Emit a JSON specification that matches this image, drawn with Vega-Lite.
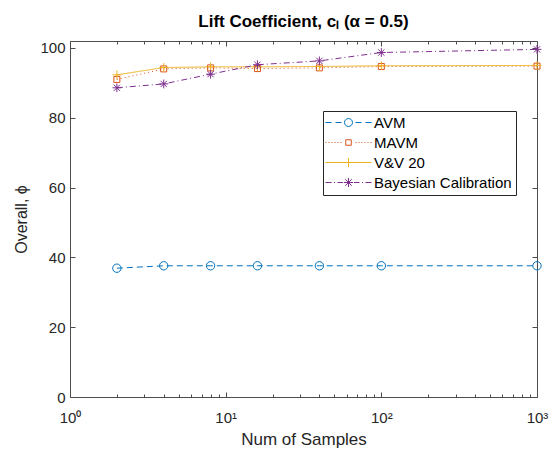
{
  "$schema": "https://vega.github.io/schema/vega-lite/v6.json",
  "autosize": {"type": "none"},
  "width": 467,
  "height": 356,
  "padding": {"left": 70, "top": 41, "right": 16, "bottom": 65},
  "background": "white",
  "title": {"text": "Lift Coefficient, cₗ (α = 0.5)", "fontSize": 17, "fontWeight": "bold", "font": "Liberation Sans", "color": "#000000", "anchor": "middle", "offset": 10},
  "data": {"values": [
    {"method": "AVM", "n": 2, "phi": 36.9},
    {"method": "AVM", "n": 4, "phi": 37.6},
    {"method": "AVM", "n": 8, "phi": 37.6},
    {"method": "AVM", "n": 16, "phi": 37.6},
    {"method": "AVM", "n": 40, "phi": 37.6},
    {"method": "AVM", "n": 100, "phi": 37.6},
    {"method": "AVM", "n": 1000, "phi": 37.6},
    {"method": "MAVM", "n": 2, "phi": 91.0},
    {"method": "MAVM", "n": 4, "phi": 94.0},
    {"method": "MAVM", "n": 8, "phi": 94.3},
    {"method": "MAVM", "n": 16, "phi": 94.1},
    {"method": "MAVM", "n": 40, "phi": 94.3},
    {"method": "MAVM", "n": 100, "phi": 94.7},
    {"method": "MAVM", "n": 1000, "phi": 94.8},
    {"method": "V&V 20", "n": 2, "phi": 92.3},
    {"method": "V&V 20", "n": 4, "phi": 94.4},
    {"method": "V&V 20", "n": 8, "phi": 94.6},
    {"method": "V&V 20", "n": 16, "phi": 94.6},
    {"method": "V&V 20", "n": 40, "phi": 94.7},
    {"method": "V&V 20", "n": 100, "phi": 94.9},
    {"method": "V&V 20", "n": 1000, "phi": 95.0},
    {"method": "Bayesian Calibration", "n": 2, "phi": 88.6},
    {"method": "Bayesian Calibration", "n": 4, "phi": 89.7},
    {"method": "Bayesian Calibration", "n": 8, "phi": 92.5},
    {"method": "Bayesian Calibration", "n": 16, "phi": 95.2},
    {"method": "Bayesian Calibration", "n": 40, "phi": 96.3},
    {"method": "Bayesian Calibration", "n": 100, "phi": 98.7},
    {"method": "Bayesian Calibration", "n": 1000, "phi": 99.6}
  ]},
  "resolve": {"axis": {"x": "independent", "y": "independent"}, "scale": {"color": "independent", "shape": "independent"}},
  "layer": [
    {
      "mark": {"type": "line", "strokeWidth": 1},
      "encoding": {
        "x": {"field": "n", "type": "quantitative",
          "scale": {"type": "log", "domain": [1, 1000], "nice": false},
          "axis": {"orient": "bottom", "title": "Num of Samples",
            "values": [1,2,3,4,5,6,7,8,9,10,20,30,40,50,60,70,80,90,100,200,300,400,500,600,700,800,900,1000],
            "labelExpr": "datum.value == 1 ? '10⁰' : datum.value == 10 ? '10¹' : datum.value == 100 ? '10²' : datum.value == 1000 ? '10³' : ''",
            "tickSize": {"condition": {"test": "datum.value == 1 || datum.value == 10 || datum.value == 100 || datum.value == 1000", "value": -5}, "value": -3},
            "labelPadding": 18, "titlePadding": 4, "labelFlush": false, "labelOverlap": false}},
        "y": {"field": "phi", "type": "quantitative",
          "scale": {"domain": [0, 102], "nice": false, "zero": true},
          "axis": {"orient": "left", "title": "Overall, ϕ", "values": [0,20,40,60,80,100], "tickSize": -5, "labelPadding": 10, "titlePadding": 10}},
        "color": {"field": "method", "type": "nominal",
          "scale": {"domain": ["AVM", "MAVM", "V&V 20", "Bayesian Calibration"], "range": ["#0072BD", "#D95319", "#EDB120", "#7E2F8E"]},
          "legend": null},
        "strokeDash": {"field": "method", "type": "nominal",
          "scale": {"domain": ["AVM", "MAVM", "V&V 20", "Bayesian Calibration"], "range": [[6, 4], [1, 3], [1, 0], [6, 3, 1, 3]]},
          "legend": null}
      }
    },
    {
      "mark": {"type": "point", "filled": false, "strokeWidth": 1, "size": 64, "opacity": 1},
      "encoding": {
        "x": {"field": "n", "type": "quantitative",
          "axis": {"orient": "top", "title": null, "labels": false,
            "values": [1,2,3,4,5,6,7,8,9,10,20,30,40,50,60,70,80,90,100,200,300,400,500,600,700,800,900,1000],
            "tickSize": {"condition": {"test": "datum.value == 1 || datum.value == 10 || datum.value == 100 || datum.value == 1000", "value": -5}, "value": -3}}},
        "y": {"field": "phi", "type": "quantitative",
          "axis": {"orient": "right", "title": null, "labels": false, "values": [0,20,40,60,80,100], "tickSize": -5}},
        "color": {"field": "method", "type": "nominal",
          "scale": {"domain": ["AVM", "MAVM", "V&V 20", "Bayesian Calibration"], "range": ["#0072BD", "#D95319", "#EDB120", "#7E2F8E"]},
          "legend": null},
        "shape": {"field": "method", "type": "nominal",
          "scale": {"domain": ["AVM", "MAVM", "V&V 20", "Bayesian Calibration"],
            "range": [
              "M-1.05,0A1.05,1.05 0 1,0 1.05,0A1.05,1.05 0 1,0 -1.05,0",
              "M-0.75,-0.75H0.75V0.75H-0.75Z",
              "M-1.1,0H1.1M0,-1.1V1.1",
              "M-1.1,0H1.1M0,-1.1V1.1M-0.78,-0.78L0.78,0.78M-0.78,0.78L0.78,-0.78"
            ]},
          "legend": null}
      }
    },
    {
      "data": {"values": [
        {"entry": "AVM"},
        {"entry": "MAVM"},
        {"entry": "V&V 20"},
        {"entry": "Bayesian Calibration"}
      ]},
      "mark": {"type": "point", "filled": false, "strokeWidth": 1, "size": 100, "opacity": 0},
      "encoding": {
        "color": {"field": "entry", "type": "nominal",
          "scale": {"domain": ["AVM", "MAVM", "V&V 20", "Bayesian Calibration"], "range": ["#0072BD", "#D95319", "#EDB120", "#7E2F8E"]}},
        "shape": {"field": "entry", "type": "nominal",
          "scale": {"domain": ["AVM", "MAVM", "V&V 20", "Bayesian Calibration"],
            "range": [
              "M-4.6,0H-3.4M-2.6,0H-1.4M1.4,0H2.6M3.4,0H4.6M-0.8,0A0.8,0.8 0 1,0 0.8,0A0.8,0.8 0 1,0 -0.8,0",
              "M-4.6,0h0.2M-4,0h0.2M-3.4,0h0.2M-2.8,0h0.2M-2.2,0h0.2M-1.6,0h0.2M1.4,0h0.2M2,0h0.2M2.6,0h0.2M3.2,0h0.2M3.8,0h0.2M4.4,0h0.2M-0.55,-0.55H0.55V0.55H-0.55Z",
              "M-4.6,0H4.6M0,-0.9V0.9",
              "M-4.6,0H-3.4M-2.9,0H-2.7M-2.2,0H-1.1M1.1,0H2.2M2.7,0H2.9M3.4,0H4.6M-0.9,0H0.9M0,-0.9V0.9M-0.64,-0.64L0.64,0.64M-0.64,0.64L0.64,-0.64"
            ]},
          "legend": {
            "title": null, "orient": "none", "legendX": 253, "legendY": 70,
            "direction": "vertical",
            "fillColor": "white", "strokeColor": "#262626", "padding": 4,
            "symbolSize": 100, "symbolOffset": 14, "labelOffset": 18,
            "symbolOpacity": 1, "symbolStrokeWidth": 1,
            "labelFontSize": 15, "labelFont": "Liberation Sans", "labelColor": "#000000",
            "rowPadding": 4, "labelLimit": 300
          }}
      }
    }
  ],
  "config": {
    "view": {"stroke": null},
    "font": "Liberation Sans",
    "axis": {
      "grid": false,
      "domainColor": "#4d4d4d",
      "tickColor": "#4d4d4d",
      "labelColor": "#262626",
      "titleColor": "#262626",
      "labelFontSize": 15,
      "titleFontSize": 16,
      "titleFontWeight": "normal",
      "labelFont": "Liberation Sans",
      "titleFont": "Liberation Sans"
    },
    "axisBottom": {"titleFontSize": 17}
  }
}
